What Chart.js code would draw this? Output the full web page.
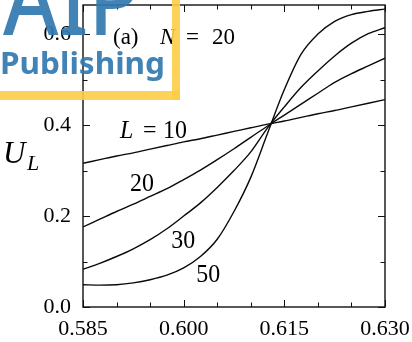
<!DOCTYPE html>
<html>
<head>
<meta charset="utf-8">
<script src="https://cdn.jsdelivr.net/npm/chart.js@4.4.1/dist/chart.umd.min.js"></script>
<style>
  html, body { margin: 0; padding: 0; background: #fff; }
  #wrap { position: relative; width: 412px; height: 342px; }
</style>
</head>
<body>
<div id="wrap"><canvas id="c"></canvas></div>
<script>
// Binder cumulant U_L versus coupling, N = 20, for several system sizes L
const xs = [0.585, 0.5875, 0.590, 0.5925, 0.595, 0.5975, 0.600, 0.6025, 0.605, 0.6075,
            0.610, 0.6125, 0.615, 0.6175, 0.620, 0.6225, 0.625, 0.6275, 0.630];
const sizes = [10, 20, 30, 50];
const uL10 = [0.316, 0.324, 0.332, 0.339, 0.347, 0.355, 0.363, 0.370, 0.378, 0.386,
              0.394, 0.402, 0.409, 0.417, 0.425, 0.432, 0.440, 0.448, 0.456];
const uL20 = [0.176, 0.193, 0.210, 0.226, 0.243, 0.260, 0.280, 0.301, 0.324, 0.348,
              0.373, 0.398, 0.422, 0.446, 0.470, 0.494, 0.513, 0.530, 0.547];
const uL30 = [0.083, 0.096, 0.111, 0.128, 0.148, 0.172, 0.200, 0.229, 0.263, 0.300,
              0.341, 0.394, 0.440, 0.483, 0.519, 0.552, 0.580, 0.601, 0.614];
const uL50 = [0.049, 0.048, 0.049, 0.053, 0.060, 0.070, 0.086, 0.111, 0.149, 0.210,
              0.285, 0.382, 0.478, 0.556, 0.600, 0.628, 0.643, 0.650, 0.655];
const xTicks = [0.585, 0.600, 0.615, 0.630];
const xMinorTicks = [0.590, 0.595, 0.605, 0.610, 0.620, 0.625];
const yTicks = [0.0, 0.2, 0.4, 0.6];
const yMinorTicks = [0.1, 0.3, 0.5];
const xRange = [0.585, 0.630];
const yRange = [0.0, 0.664];

// text placed in data units: [x, y, text, italic, font size]
const notes = [
  [0.58947, 0.578, '(a)', false, 23],
  [0.59647, 0.578, 'N', true, 23],
  [0.60035, 0.578, '=', false, 23],
  [0.60422, 0.578, '20', false, 23],
  [0.59051, 0.3714, 'L', true, 26],
  [0.59394, 0.3714, '=', false, 26],
  [0.59692, 0.3714, '10', false, 26],
  [0.5920, 0.2549, '20', false, 26],
  [0.59816, 0.1297, '30', false, 26],
  [0.60188, 0.0549, '50', false, 26]
];

const SERIF = '"Liberation Serif", "Times New Roman", serif';
const series = [uL10, uL20, uL30, uL50];

const datasets = series.map((vals, k) => ({
  label: 'L = ' + sizes[k],
  data: xs.map((x, i) => ({ x, y: vals[i] })),
  borderColor: '#0a0a0a',
  borderWidth: 1.4,
  pointRadius: 0,
  fill: false,
  cubicInterpolationMode: 'monotone'
}));

const decorations = {
  id: 'decorations',
  afterDatasetsDraw(chart) {
    const { ctx, chartArea: a, scales: { x, y } } = chart;
    ctx.save();
    ctx.strokeStyle = '#111';
    ctx.lineWidth = 1.4;
    ctx.strokeRect(a.left, a.top, a.right - a.left, a.bottom - a.top);
    ctx.lineWidth = 1;
    const xt = (v, len) => {
      const p = Math.round(x.getPixelForValue(v)) + 0.5;
      ctx.beginPath();
      ctx.moveTo(p, a.bottom); ctx.lineTo(p, a.bottom - len);
      ctx.moveTo(p, a.top); ctx.lineTo(p, a.top + len);
      ctx.stroke();
    };
    const yt = (v, len) => {
      const p = Math.round(y.getPixelForValue(v)) + 0.5;
      ctx.beginPath();
      ctx.moveTo(a.left, p); ctx.lineTo(a.left + len, p);
      ctx.moveTo(a.right, p); ctx.lineTo(a.right - len, p);
      ctx.stroke();
    };
    xTicks.forEach(v => xt(v, 7));
    xMinorTicks.forEach(v => xt(v, 4.5));
    yTicks.forEach(v => yt(v, 7));
    yMinorTicks.forEach(v => yt(v, 4.5));

    // curve labels (the larger ones slightly condensed)
    ctx.fillStyle = '#000';
    ctx.textBaseline = 'alphabetic';
    ctx.textAlign = 'left';
    notes.forEach(([vx, vy, t, it, size]) => {
      ctx.save();
      ctx.font = (it ? 'italic ' : '') + size + 'px ' + SERIF;
      ctx.translate(x.getPixelForValue(vx), y.getPixelForValue(vy));
      if (size > 24) ctx.scale(0.92, 1);
      ctx.fillText(t, 0, 0);
      ctx.restore();
    });

    // axis title U_L
    ctx.font = 'italic 31px ' + SERIF;
    ctx.fillText('U', 3, 163);
    ctx.font = 'italic 22px ' + SERIF;
    ctx.fillText('L', 27, 170);
    ctx.restore();
  },
  afterDraw(chart) {
    // publisher mark in the upper-left corner
    const { ctx } = chart;
    ctx.save();
    ctx.globalAlpha = 0.9;
    ctx.fillStyle = 'rgb(252, 206, 70)';
    ctx.fillRect(172, 0, 8, 100);
    ctx.fillRect(0, 91, 180, 9);
    ctx.globalAlpha = 0.93;
    ctx.fillStyle = 'rgb(50, 122, 174)';
    ctx.textBaseline = 'alphabetic';
    ctx.textAlign = 'left';
    const fit = (text, font, left, base, width) => {
      ctx.font = font;
      const w = ctx.measureText(text).width;
      ctx.save();
      ctx.translate(left, base);
      ctx.scale(width / w, 1);
      ctx.fillText(text, 0, 0);
      ctx.restore();
    };
    fit('AIP', '500 96px "Noto Sans", sans-serif', 3, 35, 137);
    fit('Publishing', 'bold 30px "Noto Sans", sans-serif', 0, 74, 165);
    ctx.restore();
  }
};

new Chart(document.getElementById('c'), {
  type: 'line',
  data: { datasets },
  options: {
    responsive: true,
    maintainAspectRatio: false,
    devicePixelRatio: 1,
    animation: false,
    layout: { padding: { top: 5, right: 27, left: 0, bottom: 0 } },
    plugins: { legend: { display: false }, tooltip: { enabled: false } },
    scales: {
      x: {
        type: 'linear',
        min: xRange[0], max: xRange[1],
        grid: { display: false, drawTicks: false },
        border: { display: false },
        afterBuildTicks: s => { s.ticks = xTicks.map(v => ({ value: v })); },
        afterFit: s => { s.height = 35; s.paddingLeft = 0; s.paddingRight = 0; },
        ticks: {
          padding: 9,
          color: '#000',
          font: { family: SERIF, size: 22 },
          maxRotation: 0,
          callback: v => Number(v).toFixed(3)
        }
      },
      y: {
        type: 'linear',
        min: yRange[0], max: yRange[1],
        grid: { display: false, drawTicks: false },
        border: { display: false },
        afterBuildTicks: s => { s.ticks = yTicks.map(v => ({ value: v })); },
        afterFit: s => { s.width = 83; s.paddingTop = 0; s.paddingBottom = 0; },
        ticks: {
          padding: 12,
          color: '#000',
          font: { family: SERIF, size: 22 },
          callback: v => Number(v).toFixed(1)
        }
      }
    }
  },
  plugins: [decorations]
});
</script>
</body>
</html>
